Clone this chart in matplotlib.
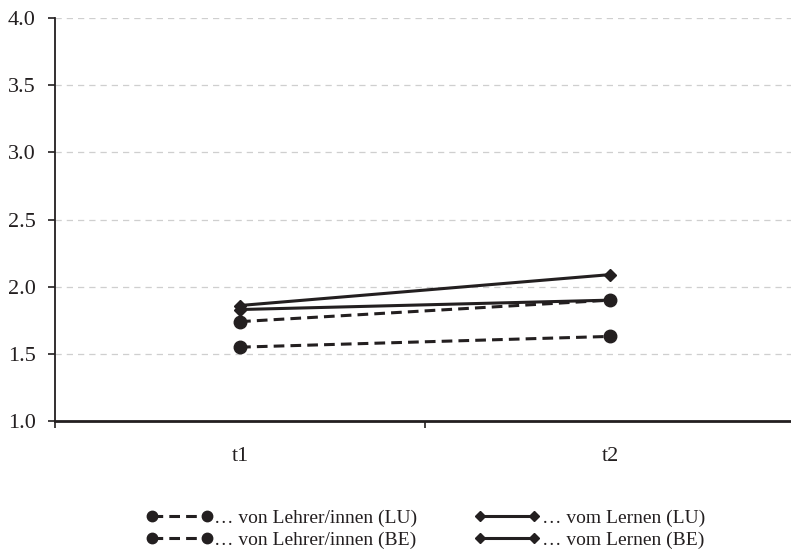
import numpy as np
import matplotlib.pyplot as plt
from matplotlib.lines import Line2D

plt.rcParams['font.family'] = ['Liberation Serif', 'DejaVu Serif']

ink = '#231f20'

zeitpunkte = ['t1', 't2']
lehrer_lu = [1.55, 1.63]
lehrer_be = [1.74, 1.90]
lernen_lu = [1.86, 2.09]
lernen_be = [1.83, 1.90]

labels = ['… von Lehrer/innen (LU)', '… von Lehrer/innen (BE)',
          '… vom Lernen (LU)', '… vom Lernen (BE)']

fig = plt.figure(figsize=(7.91, 5.54), dpi=100)
ax = fig.add_axes([0.0695, 0.24, 0.936, 0.7275])

x = np.arange(len(zeitpunkte))

# solid lines first, dashed/circles drawn on top
ax.plot(x, lernen_lu, color=ink, lw=2.2, marker='D', ms=6.5, zorder=3)
ax.plot(x, lernen_be, color=ink, lw=2.2, marker='D', ms=6.5, zorder=3)
ax.plot(x, lehrer_be, color=ink, lw=2.2, ls=(0, (3.5, 2)), marker='o', ms=9, zorder=4)
ax.plot(x, lehrer_lu, color=ink, lw=2.2, ls=(0, (3.5, 2)), marker='o', ms=9, zorder=4)

ax.set_xlim(-0.5, 1.5)
ax.set_ylim(1.0, 4.0)
ax.set_yticks(np.arange(1.0, 4.01, 0.5))
ax.set_yticklabels([f'{v:.1f}' for v in np.arange(1.0, 4.01, 0.5)])

ax.set_xticks([-0.5, 0.5])
ax.set_xticklabels(['', ''])
ax.set_xticks(x, minor=True)
ax.set_xticklabels(zeitpunkte, minor=True)
ax.tick_params(axis='x', which='minor', length=0, pad=19)
ax.tick_params(axis='x', which='major', length=5, width=1.2, color=ink)
ax.tick_params(axis='y', length=5, width=1.2, color=ink, pad=9)
ax.tick_params(labelsize=16, labelcolor=ink)
for lbl in ax.get_xticklabels(minor=True):
    lbl.set_fontsize(16)
    lbl.set_color(ink)

ax.grid(axis='y', color='#cfcfcf', ls=(0, (5, 4)), lw=0.9)
ax.set_axisbelow(True)
for s in ['top', 'right']:
    ax.spines[s].set_visible(False)
ax.spines['left'].set_color(ink)
ax.spines['left'].set_linewidth(1.3)
ax.spines['bottom'].set_color(ink)
ax.spines['bottom'].set_linewidth(2)

handles = [
    Line2D([], [], color=ink, lw=2.2, ls=(0, (3.5, 2)), marker='o', ms=7.5),
    Line2D([], [], color=ink, lw=2.2, ls=(0, (3.5, 2)), marker='o', ms=7.5),
    Line2D([], [], color=ink, lw=2.2, marker='D', ms=5),
    Line2D([], [], color=ink, lw=2.2, marker='D', ms=5),
]
fig.legend(handles, labels, loc='lower left', bbox_to_anchor=(0.163, -0.022),
           ncol=2, frameon=False, numpoints=2, handlelength=3.4,
           handletextpad=0.1, columnspacing=2.9, labelspacing=0.2,
           fontsize=14, labelcolor=ink)

fig.savefig('out.png', dpi=100)
